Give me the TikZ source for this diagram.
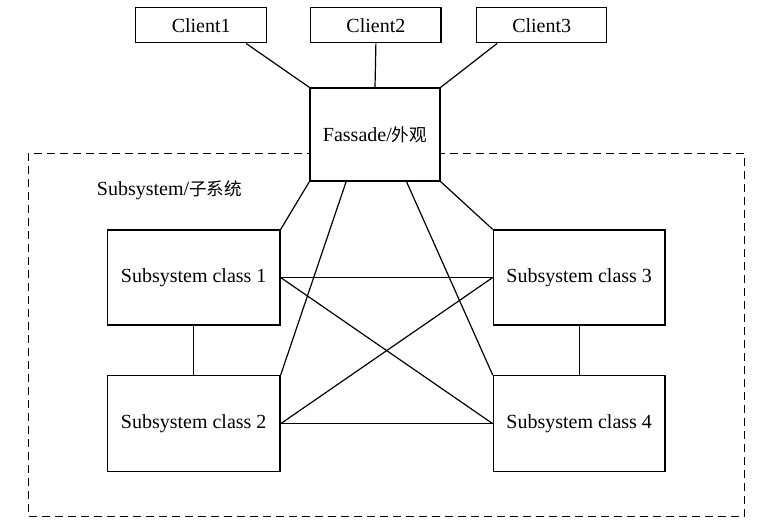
\documentclass[tikz,border=0pt]{standalone}
\usepackage{fontspec}
\setmainfont{Liberation Serif}
\newfontfamily\cjk[Scale=0.88]{Noto Sans CJK SC}
\usetikzlibrary{calc}
\begin{document}
\begin{tikzpicture}[x=1pt,y=-1pt,line width=1.2pt,
  box/.style={draw,rectangle,inner sep=0pt,fill=white,font=\fontsize{20}{24}\selectfont},
  frame/.style={draw,dash pattern=on 8pt off 5pt,line width=1.1pt}]
\useasboundingbox[fill=white] (0,0) rectangle (757,521);
% subsystem frame
\draw[frame] (28.3,153.3) rectangle (744.3,516.7);
\node[anchor=west,font=\fontsize{20}{24}\selectfont] (lbl) at (93,190) {Subsystem/{\cjk 子系统}};
% clients
\node[box,minimum width=131pt,minimum height=35pt] (c1) at (201.2,25.4) {Client1};
\node[box,minimum width=130.3pt,minimum height=35pt] (c2) at (375.9,25.4) {Client2};
\node[box,minimum width=130pt,minimum height=35pt] (c3) at (541.7,25.4) {Client3};
% facade
\node[box,minimum width=130pt,minimum height=93pt] (f) at (375,134.5) {Fassade/{\cjk 外观}};
% subsystem classes
\node[box,minimum width=172.7pt,minimum height=95pt] (s1) at (193.7,277.5) {Subsystem class 1};
\node[box,minimum width=172.7pt,minimum height=96pt] (s2) at (193.7,423.7) {Subsystem class 2};
\node[box,minimum width=171.7pt,minimum height=95pt] (s3) at (579.2,277.5) {Subsystem class 3};
\node[box,minimum width=171.7pt,minimum height=96pt] (s4) at (579.2,423.7) {Subsystem class 4};
% connectors
\draw ($(c1.south west)!0.84!(c1.south east)$) -- (f.north west);
\draw (c2.south) -- (f.north);
\draw ($(c3.south west)!0.16!(c3.south east)$) -- (f.north east);
\draw (f.south west) -- (s1.north east);
\draw ($(f.south west)!0.28!(f.south east)$) -- (s2.north east);
\draw ($(f.south west)!0.74!(f.south east)$) -- (s4.north west);
\draw (f.south east) -- (s3.north west);
\draw (s1.east) -- (s3.west);
\draw (s1.east) -- (s4.west);
\draw (s2.east) -- (s3.west);
\draw (s2.east) -- (s4.west);
\draw (s1.south) -- (s2.north);
\draw (s3.south) -- (s4.north);
\end{tikzpicture}
\end{document}
